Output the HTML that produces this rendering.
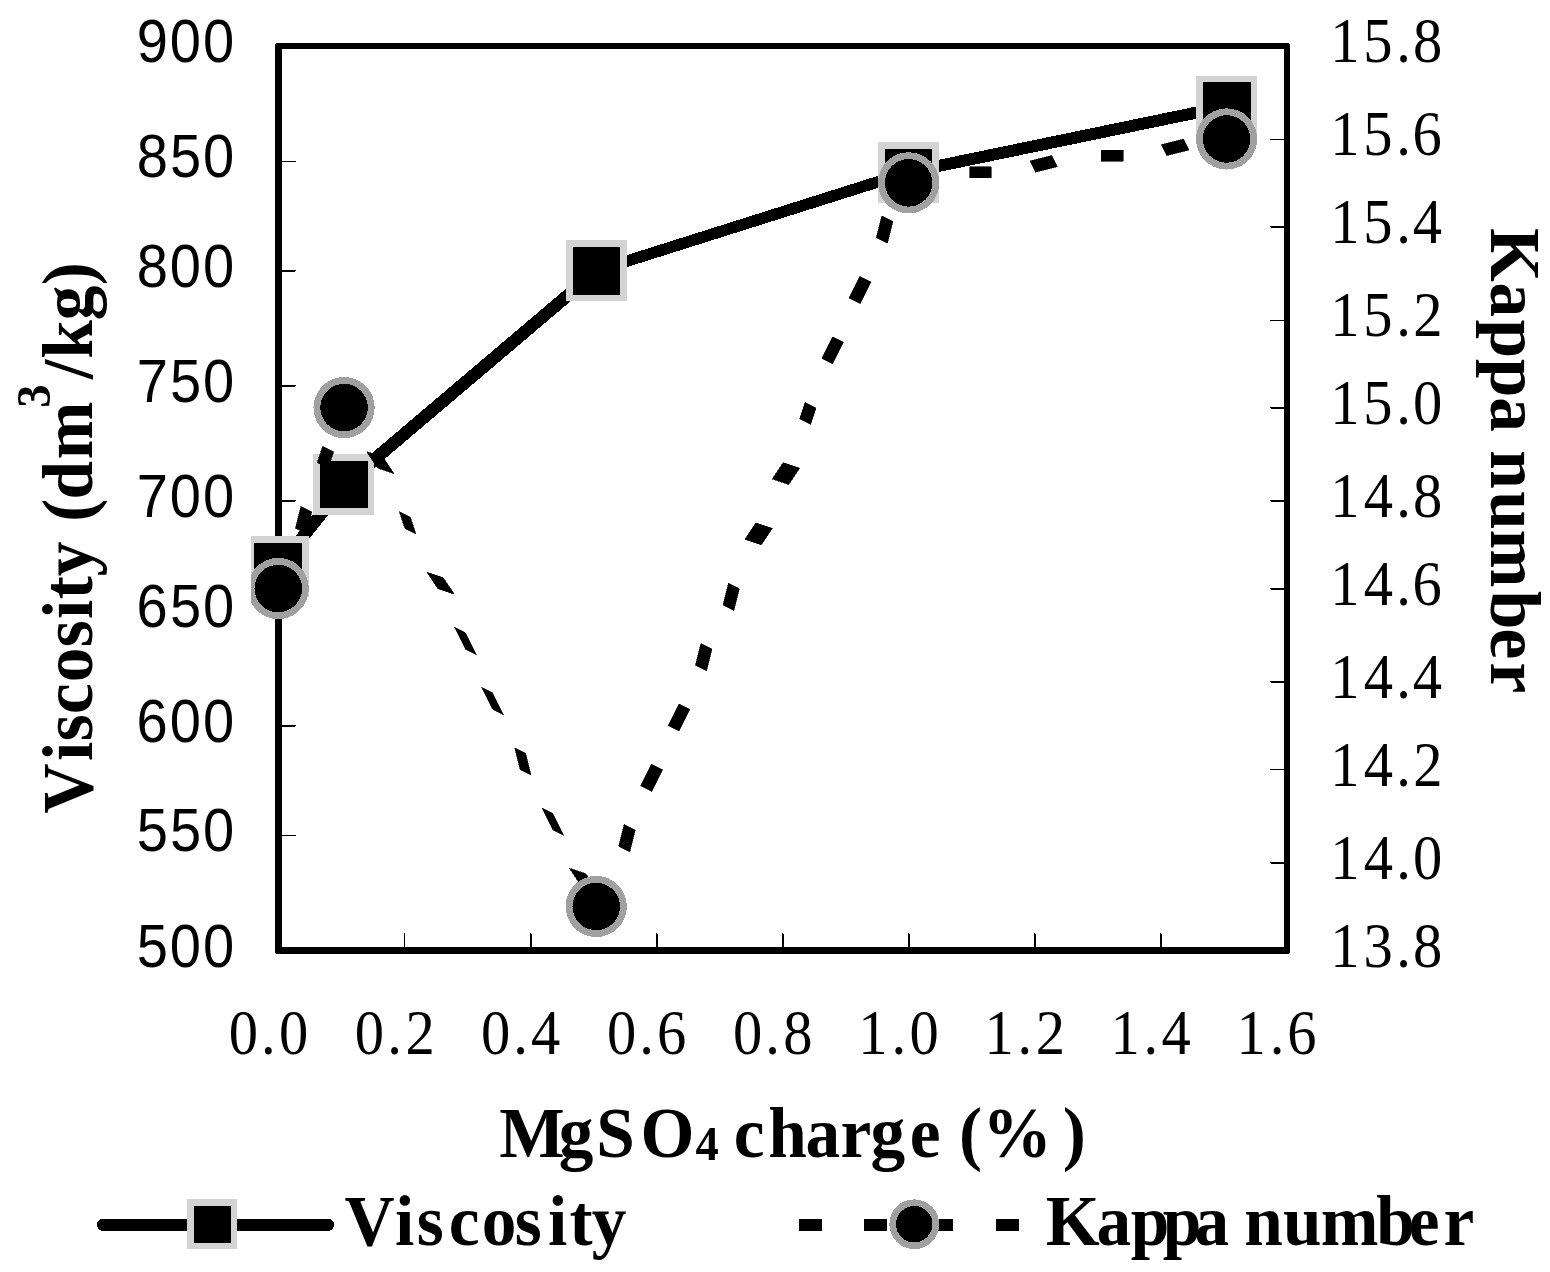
<!DOCTYPE html>
<html lang="en">
<head>
<meta charset="utf-8">
<title>Viscosity and Kappa number vs MgSO4 charge</title>
<style>
html,body{margin:0;padding:0;background:#fff;}
body{width:1550px;height:1272px;overflow:hidden;}
svg{display:block;}
text{fill:#000;white-space:pre;}
</style>
</head>
<body>
<svg width="1550" height="1272" viewBox="0 0 1550 1272">
<rect x="0" y="0" width="1550" height="1272" fill="#fff"/>
<g id="axes" fill="#000">
<path fill-rule="evenodd" d="M276.3 43H1288.7L1290 44.3V952.7L1288.7 954H276.3L275 952.7V44.3ZM282 49V947H1284V49Z"/>
</g>
<g id="ticks" fill="#000" shape-rendering="crispEdges">
<rect x="281" y="161" width="15" height="1"/>
<rect x="281" y="270" width="15" height="1"/>
<rect x="281" y="271" width="14" height="1"/>
<rect x="281" y="385" width="15" height="1"/>
<rect x="281" y="386" width="14" height="1"/>
<rect x="281" y="500" width="15" height="1"/>
<rect x="281" y="501" width="14" height="1"/>
<rect x="281" y="610" width="15" height="1"/>
<rect x="281" y="611" width="14" height="1"/>
<rect x="281" y="725" width="15" height="1"/>
<rect x="281" y="726" width="14" height="1"/>
<rect x="281" y="835" width="15" height="1"/>
<rect x="1270" y="139" width="15" height="1"/>
<rect x="1270" y="226" width="15" height="1"/>
<rect x="1271" y="227" width="14" height="1"/>
<rect x="1270" y="320" width="15" height="1"/>
<rect x="1270" y="407" width="15" height="1"/>
<rect x="1271" y="408" width="14" height="1"/>
<rect x="1270" y="500" width="15" height="1"/>
<rect x="1271" y="501" width="14" height="1"/>
<rect x="1270" y="588" width="15" height="1"/>
<rect x="1271" y="589" width="14" height="1"/>
<rect x="1270" y="681" width="15" height="1"/>
<rect x="1271" y="682" width="14" height="1"/>
<rect x="1270" y="769" width="15" height="1"/>
<rect x="1270" y="862" width="15" height="1"/>
<rect x="1271" y="863" width="14" height="1"/>
<rect x="404" y="933" width="1" height="15"/>
<rect x="530" y="933" width="1" height="15"/>
<rect x="531" y="934" width="1" height="14"/>
<rect x="656" y="933" width="1" height="15"/>
<rect x="657" y="934" width="1" height="14"/>
<rect x="782" y="933" width="1" height="15"/>
<rect x="783" y="934" width="1" height="14"/>
<rect x="908" y="933" width="1" height="15"/>
<rect x="909" y="934" width="1" height="14"/>
<rect x="1034" y="933" width="1" height="15"/>
<rect x="1035" y="934" width="1" height="14"/>
<rect x="1160" y="933" width="1" height="15"/>
<rect x="1161" y="934" width="1" height="14"/>
</g>
<g id="series" shape-rendering="crispEdges">
<g stroke="#000" fill="none">
<line x1="278.7" y1="566.99" x2="344.48" y2="484.76" stroke-width="12.4"/>
<line x1="344.48" y1="484.76" x2="596.63" y2="270.96" stroke-width="12.6"/>
<line x1="596.43" y1="270.76" x2="908.87" y2="172.09" stroke-width="11.5"/>
<line x1="908.87" y1="172.09" x2="1226.8" y2="106.3" stroke-width="12.0"/>
</g>
<rect x="251" y="536" width="58" height="61" fill="#d3d3d3"/><rect x="254" y="543" width="48" height="48" fill="#000"/>
<rect x="313" y="454" width="61" height="61" fill="#d3d3d3"/><rect x="320" y="461" width="48" height="47" fill="#000"/>
<rect x="566" y="240" width="61" height="61" fill="#d3d3d3"/><rect x="573" y="247" width="47" height="48" fill="#000"/>
<rect x="878" y="142" width="61" height="61" fill="#d3d3d3"/><rect x="885" y="149" width="47" height="48" fill="#000"/>
<rect x="1196" y="76" width="61" height="61" fill="#d3d3d3"/><rect x="1203" y="82" width="48" height="48" fill="#000"/>
<g fill="#000" stroke="#000" stroke-width="0.6" stroke-linejoin="miter">
<polygon points="300.83,506.49 311.79,511.97 306.31,533.9 295.34,528.42"/>
<polygon points="322.75,446.19 333.71,451.67 328.23,468.11 317.27,462.63"/>
<polygon points="366.6,451.67 383.05,457.15 394.01,473.6 377.57,468.11"/>
<polygon points="399.49,511.97 410.46,517.45 415.94,533.9 404.97,528.42"/>
<polygon points="426.9,572.27 443.34,577.75 454.31,594.2 437.86,588.72"/>
<polygon points="454.31,627.09 465.27,632.57 476.23,654.5 465.27,649.02"/>
<polygon points="481.72,687.39 492.68,692.88 503.64,714.8 492.68,709.32"/>
<polygon points="514.6,747.7 525.57,753.18 531.05,775.11 520.09,769.62"/>
<polygon points="542.01,808 552.98,813.48 563.94,835.41 552.98,829.93"/>
<polygon points="569.42,868.3 585.86,873.78 596.83,890.23 580.38,884.75"/>
<polygon points="624.23,824.44 635.2,829.93 629.72,851.85 618.75,846.37"/>
<polygon points="651.64,764.14 662.6,769.62 651.64,791.55 640.68,786.07"/>
<polygon points="679.05,703.84 690.01,709.32 679.05,731.25 668.09,725.77"/>
<polygon points="700.98,643.54 711.94,649.02 706.46,670.95 695.49,665.47"/>
<polygon points="728.38,583.24 739.35,588.72 733.86,610.65 722.9,605.16"/>
<polygon points="755.79,522.93 772.24,528.42 761.27,544.86 744.83,539.38"/>
<polygon points="783.2,462.63 799.64,468.11 788.68,484.56 772.24,479.08"/>
<polygon points="805.12,402.33 816.09,407.81 810.61,424.26 799.64,418.78"/>
<polygon points="832.53,336.55 843.49,342.03 832.53,363.96 821.57,358.47"/>
<polygon points="859.94,276.24 870.9,281.73 859.94,303.65 848.98,298.17"/>
<polygon points="881.86,215.94 892.83,221.42 887.35,243.35 876.38,237.87"/>
<polygon points="969.57,166.6 991.49,166.6 991.49,177.57 969.57,177.57"/>
<polygon points="1029.87,161.12 1051.79,155.64 1057.27,166.6 1035.35,172.09"/>
<polygon points="1101.12,150.16 1123.05,150.16 1123.05,161.12 1101.12,161.12"/>
<polygon points="1161.42,144.68 1183.35,139.19 1188.83,150.16 1166.9,155.64"/>
</g>
<path d="M251.2 574.31A30.6 30.6 0 1 1 251.2 602.73Z" fill="#a0a0a0"/>
<circle cx="278.3" cy="588.52" r="23.8" fill="#000"/>
<circle cx="344.08" cy="407.61" r="30.6" fill="#a0a0a0"/>
<circle cx="344.08" cy="407.61" r="23.8" fill="#000"/>
<circle cx="596.23" cy="906.47" r="30.6" fill="#a0a0a0"/>
<circle cx="596.23" cy="906.47" r="23.8" fill="#000"/>
<circle cx="908.67" cy="182.85" r="30.6" fill="#a0a0a0"/>
<circle cx="908.67" cy="182.85" r="23.8" fill="#000"/>
<circle cx="1226.6" cy="138.99" r="30.6" fill="#a0a0a0"/>
<circle cx="1226.6" cy="138.99" r="23.8" fill="#000"/>
</g>
<g id="legend" shape-rendering="crispEdges">
<line x1="103.09" y1="1224.78" x2="327.83" y2="1224.78" stroke="#000" stroke-width="12.4" stroke-linecap="round"/>
<rect x="190.47" y="1202.48" width="43.5" height="43.5" fill="#000" stroke="#d3d3d3" stroke-width="6.6"/>
<g fill="#000" shape-rendering="crispEdges">
<rect x="799" y="1218.53" width="23.2" height="12.4"/>
<rect x="864" y="1218.53" width="23.2" height="12.4"/>
<rect x="929.8" y="1218.53" width="23.4" height="12.4"/>
<rect x="996.2" y="1218.53" width="23.2" height="12.4"/>
</g>
<circle cx="914.25" cy="1224.23" r="21.55" fill="#000" stroke="#a0a0a0" stroke-width="6.6"/>
</g>
<g id="labels">
<text transform="scale(0.922 1)" x="148.4 184.23 220.08" y="62" font-family="&quot;Liberation Sans&quot;, Arial, sans-serif" font-size="60.8">900</text>
<text transform="scale(0.922 1)" x="148.39 184.29 220.08" y="177.12" font-family="&quot;Liberation Sans&quot;, Arial, sans-serif" font-size="60.8">850</text>
<text transform="scale(0.922 1)" x="148.39 184.23 220.08" y="286.76" font-family="&quot;Liberation Sans&quot;, Arial, sans-serif" font-size="60.8">800</text>
<text transform="scale(0.922 1)" x="148.36 184.29 220.08" y="401.88" font-family="&quot;Liberation Sans&quot;, Arial, sans-serif" font-size="60.8">750</text>
<text transform="scale(0.922 1)" x="148.36 184.23 220.08" y="517.01" font-family="&quot;Liberation Sans&quot;, Arial, sans-serif" font-size="60.8">700</text>
<text transform="scale(0.922 1)" x="148.18 184.29 220.08" y="626.65" font-family="&quot;Liberation Sans&quot;, Arial, sans-serif" font-size="60.8">650</text>
<text transform="scale(0.922 1)" x="148.18 184.23 220.08" y="741.77" font-family="&quot;Liberation Sans&quot;, Arial, sans-serif" font-size="60.8">600</text>
<text transform="scale(0.922 1)" x="148.45 184.29 220.08" y="851.41" font-family="&quot;Liberation Sans&quot;, Arial, sans-serif" font-size="60.8">550</text>
<text transform="scale(0.922 1)" x="148.45 184.23 220.08" y="966.53" font-family="&quot;Liberation Sans&quot;, Arial, sans-serif" font-size="60.8">500</text>
<text transform="scale(0.9375 1)" x="1419.03 1454.07 1489.25 1507.15" y="62" font-family="&quot;Liberation Serif&quot;, &quot;Times New Roman&quot;, serif" font-size="62.5">15.8</text>
<text transform="scale(0.9375 1)" x="1419.03 1454.07 1489.25 1506.74" y="155.19" font-family="&quot;Liberation Serif&quot;, &quot;Times New Roman&quot;, serif" font-size="62.5">15.6</text>
<text transform="scale(0.9375 1)" x="1419.03 1454.07 1489.25 1507.03" y="242.91" font-family="&quot;Liberation Serif&quot;, &quot;Times New Roman&quot;, serif" font-size="62.5">15.4</text>
<text transform="scale(0.9375 1)" x="1419.03 1454.07 1489.25 1507.5" y="336.1" font-family="&quot;Liberation Serif&quot;, &quot;Times New Roman&quot;, serif" font-size="62.5">15.2</text>
<text transform="scale(0.9375 1)" x="1419.03 1454.07 1489.25 1507.15" y="423.81" font-family="&quot;Liberation Serif&quot;, &quot;Times New Roman&quot;, serif" font-size="62.5">15.0</text>
<text transform="scale(0.9375 1)" x="1419.03 1454.55 1489.25 1507.15" y="517.01" font-family="&quot;Liberation Serif&quot;, &quot;Times New Roman&quot;, serif" font-size="62.5">14.8</text>
<text transform="scale(0.9375 1)" x="1419.03 1454.55 1489.25 1506.74" y="604.72" font-family="&quot;Liberation Serif&quot;, &quot;Times New Roman&quot;, serif" font-size="62.5">14.6</text>
<text transform="scale(0.9375 1)" x="1419.03 1454.55 1489.25 1507.03" y="697.91" font-family="&quot;Liberation Serif&quot;, &quot;Times New Roman&quot;, serif" font-size="62.5">14.4</text>
<text transform="scale(0.9375 1)" x="1419.03 1454.55 1489.25 1507.5" y="785.62" font-family="&quot;Liberation Serif&quot;, &quot;Times New Roman&quot;, serif" font-size="62.5">14.2</text>
<text transform="scale(0.9375 1)" x="1419.03 1454.55 1489.25 1507.15" y="878.82" font-family="&quot;Liberation Serif&quot;, &quot;Times New Roman&quot;, serif" font-size="62.5">14.0</text>
<text transform="scale(0.9375 1)" x="1419.03 1454.39 1489.25 1507.15" y="966.53" font-family="&quot;Liberation Serif&quot;, &quot;Times New Roman&quot;, serif" font-size="62.5">13.8</text>
<text transform="scale(0.9375 1)" x="244 278.48 297.65" y="1054" font-family="&quot;Liberation Serif&quot;, &quot;Times New Roman&quot;, serif" font-size="62.5">0.0</text>
<text transform="scale(0.9375 1)" x="378.48 412.96 432.49" y="1054" font-family="&quot;Liberation Serif&quot;, &quot;Times New Roman&quot;, serif" font-size="62.5">0.2</text>
<text transform="scale(0.9375 1)" x="512.96 547.44 566.49" y="1054" font-family="&quot;Liberation Serif&quot;, &quot;Times New Roman&quot;, serif" font-size="62.5">0.4</text>
<text transform="scale(0.9375 1)" x="647.44 681.92 700.68" y="1054" font-family="&quot;Liberation Serif&quot;, &quot;Times New Roman&quot;, serif" font-size="62.5">0.6</text>
<text transform="scale(0.9375 1)" x="781.92 816.4 835.57" y="1054" font-family="&quot;Liberation Serif&quot;, &quot;Times New Roman&quot;, serif" font-size="62.5">0.8</text>
<text transform="scale(0.9375 1)" x="915.53 950.88 970.05" y="1054" font-family="&quot;Liberation Serif&quot;, &quot;Times New Roman&quot;, serif" font-size="62.5">1.0</text>
<text transform="scale(0.9375 1)" x="1050.01 1085.36 1104.88" y="1054" font-family="&quot;Liberation Serif&quot;, &quot;Times New Roman&quot;, serif" font-size="62.5">1.2</text>
<text transform="scale(0.9375 1)" x="1184.49 1219.84 1238.89" y="1054" font-family="&quot;Liberation Serif&quot;, &quot;Times New Roman&quot;, serif" font-size="62.5">1.4</text>
<text transform="scale(0.9375 1)" x="1318.97 1354.32 1373.08" y="1054" font-family="&quot;Liberation Serif&quot;, &quot;Times New Roman&quot;, serif" font-size="62.5">1.6</text>
</g>
<g id="titles">
<text transform="scale(0.97 1)" font-family="&quot;Liberation Serif&quot;, &quot;Times New Roman&quot;, serif" font-weight="bold" font-size="71.5"><tspan x="514.61 576.07 614.58 660.34" y="1157.4">MgSO</tspan><tspan x="716.98 744.33" y="1160" font-size="48">4 </tspan><tspan x="756.48 792.14 830.48 866.41 897.51 937.96 974.23" y="1157.4">charge </tspan><tspan x="988.71 1012.9 1095.73" y="1157.4">(%)</tspan></text>
<text transform="scale(0.97 1)" font-family="&quot;Liberation Serif&quot;, &quot;Times New Roman&quot;, serif" font-weight="bold" font-size="71.5"><tspan x="355.11 407.33 429.69 462.67 496.56 530.72 565.06 587.16 609.96" y="1245">Viscosity</tspan></text>
<text transform="scale(0.97 1)" font-family="&quot;Liberation Serif&quot;, &quot;Times New Roman&quot;, serif" font-weight="bold" font-size="71.5"><tspan x="1078.05 1130.48 1165.65 1198.64 1231.51 1270.1" y="1245">Kappa </tspan><tspan x="1282.79 1322.8 1361.62 1418.74 1452.39 1488.06" y="1245">number</tspan></text>
<text transform="translate(92.3 813) rotate(-90) scale(0.97 1)" font-family="&quot;Liberation Serif&quot;, &quot;Times New Roman&quot;, serif" font-weight="bold" font-size="71.5"><tspan x="-0.41 53.67 74.02 102.05 134.86 170.93 200.06 220.25 244.08 291.75" y="0">Viscosity </tspan><tspan x="300.36 323.3 364.61" y="0">(dm</tspan><tspan x="417.81" y="-42.4" font-size="48">3</tspan><tspan x="447.37 468.2 507.92 543.98" y="0">/kg)</tspan></text>
<text transform="translate(1490.9 228.4) rotate(90) scale(0.97 1)" font-family="&quot;Liberation Serif&quot;, &quot;Times New Roman&quot;, serif" font-weight="bold" font-size="71.5"><tspan x="-0.3 55.84 94 134.31 174.19 212.99" y="0">Kappa </tspan><tspan x="228.77 270.95 310.7 373.48 412.6 447.5" y="0">number</tspan></text>
</g>
</svg>
</body>
</html>
